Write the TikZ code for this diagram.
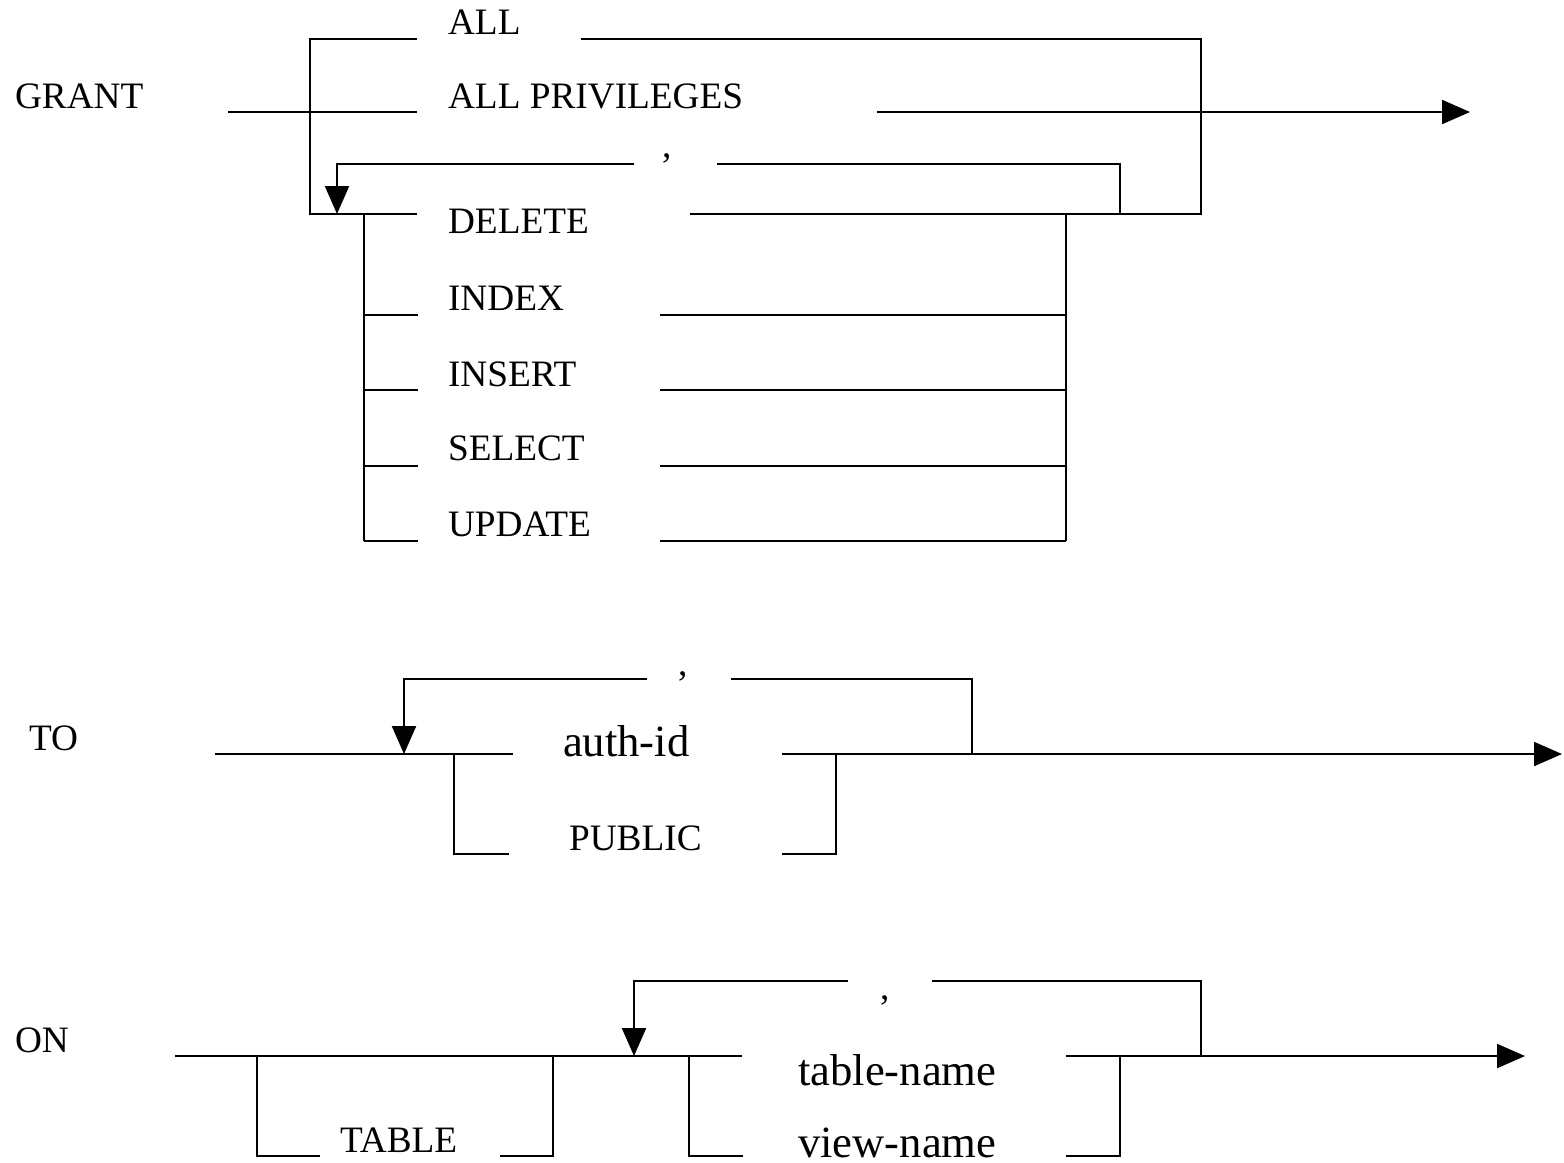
\documentclass[tikz,border=0pt]{standalone}
\usepackage{fontspec}
\setmainfont{Liberation Serif}
\usetikzlibrary{arrows.meta}
\begin{document}
\begin{tikzpicture}[x=0.01cm,y=-0.01cm,line width=0.6pt,
    kw/.style={anchor=base west,inner sep=0pt,font=\fontsize{10.6}{12}\selectfont},
    ident/.style={anchor=base west,inner sep=0pt,font=\fontsize{12.7}{14}\selectfont},
    flow/.style={-{Triangle[length=0.28cm,width=0.24cm]}}]
    \useasboundingbox (0,0) rectangle (1564,1162);
    % GRANT
    \begin{scope}
        \node[kw] (grant) at (14,108) {GRANT};
        \node[kw] (all) at (447,34) {ALL};
        \node[kw] (allpriv) at (447,108) {ALL PRIVILEGES};
        \node[kw] (sep1) at (661,157) {,};
        \node[kw] (delete) at (447,233) {DELETE};
        \node[kw] (index) at (447,310) {INDEX};
        \node[kw] (insert) at (447,386) {INSERT};
        \node[kw] (select) at (447,460) {SELECT};
        \node[kw] (update) at (447,536) {UPDATE};
        \draw (228,112) -- (417,112);
        \draw (417,39) -- (310,39) -- (310,214) -- (417,214);
        \draw (581,39) -- (1201,39) -- (1201,214) -- (690,214);
        \draw[flow] (877,112) -- (1470,112);
        \draw (717,164) -- (1120,164) -- (1120,214);
        \draw[flow] (634,164) -- (337,164) -- (337,214);
        \draw (364,214) -- (364,541);
        \draw (1066,214) -- (1066,541);
        \foreach \y in {315,390,466,541} {
            \draw (364,\y) -- (418,\y);
            \draw (660,\y) -- (1066,\y);
        }
    \end{scope}
    % TO
    \begin{scope}
        \node[kw] (to) at (28,750) {TO};
        \node[ident] (authid) at (562,756) {auth-id};
        \node[kw] (public) at (568,850) {PUBLIC};
        \node[kw] (sep2) at (677,675) {,};
        \draw (215,754) -- (513,754);
        \draw[flow] (647,679) -- (404,679) -- (404,754);
        \draw (731,679) -- (972,679) -- (972,754);
        \draw[flow] (782,754) -- (1562,754);
        \draw (454,754) -- (454,854) -- (509,854);
        \draw (782,854) -- (836,854) -- (836,754);
    \end{scope}
    % ON
    \begin{scope}
        \node[kw] (on) at (14,1052) {ON};
        \node[kw] (tablekw) at (339,1152) {TABLE};
        \node[ident] (tablename) at (797,1085) {table-name};
        \node[ident] (viewname) at (797,1157) {view-name};
        \node[kw] (sep3) at (879,999) {,};
        \draw (175,1056) -- (742,1056);
        \draw (257,1056) -- (257,1156) -- (320,1156);
        \draw (500,1156) -- (553,1156) -- (553,1056);
        \draw[flow] (848,981) -- (634,981) -- (634,1056);
        \draw (932,981) -- (1201,981) -- (1201,1056);
        \draw (689,1056) -- (689,1156) -- (743,1156);
        \draw[flow] (1066,1056) -- (1525,1056);
        \draw (1066,1156) -- (1120,1156) -- (1120,1056);
    \end{scope}
\end{tikzpicture}
\end{document}
